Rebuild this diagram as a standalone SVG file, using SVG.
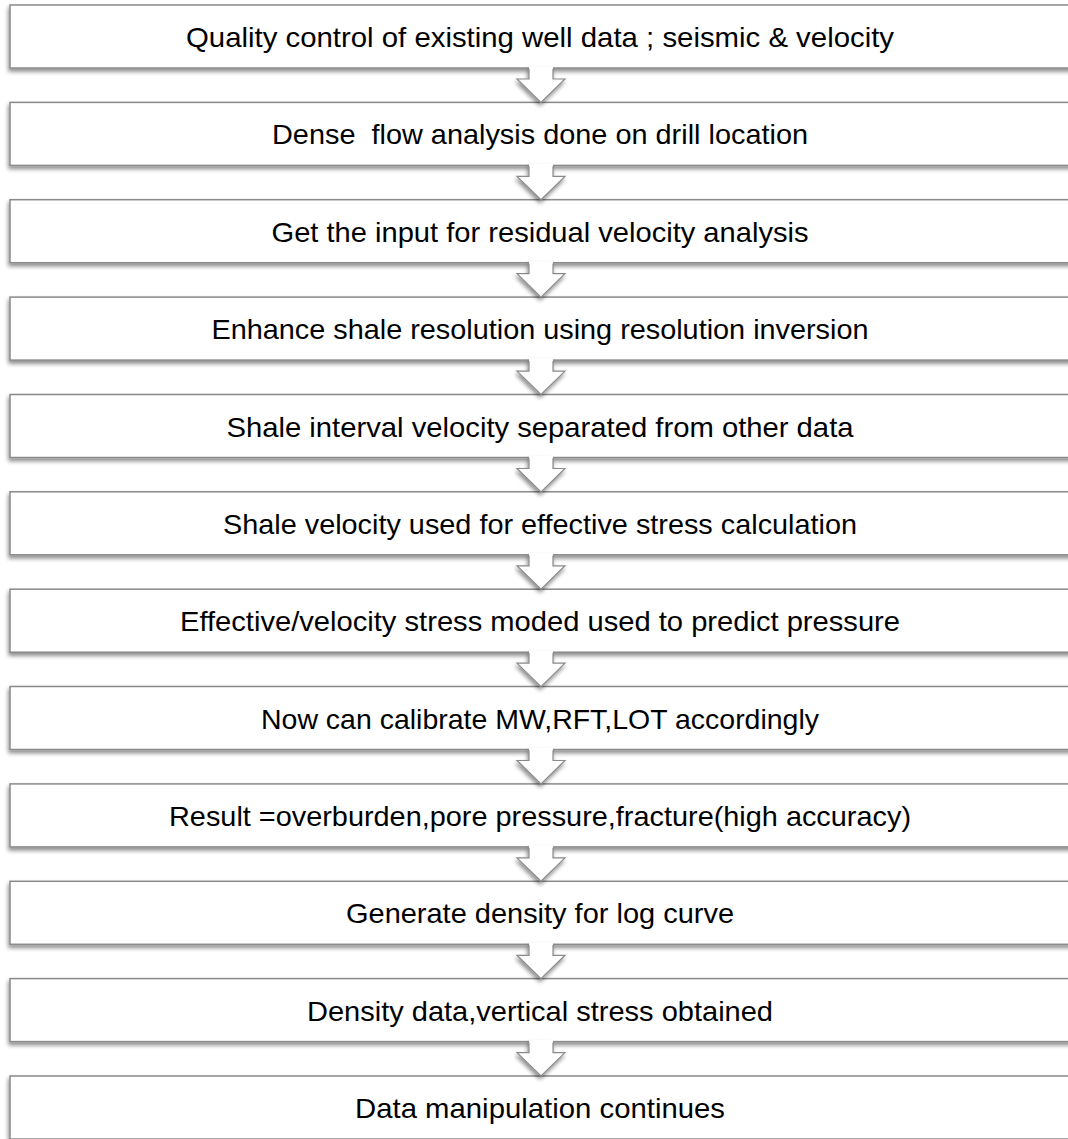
<svg xmlns="http://www.w3.org/2000/svg" width="1068" height="1139" viewBox="0 0 1068 1139">
<style>
.box{fill:#ffffff;stroke:#8a8a8a;stroke-width:1.5}
.lbl{font-family:"Liberation Sans",Arial,sans-serif;font-size:28.5px;fill:#000;text-anchor:middle}
.afill{fill:#ffffff;stroke:none}
.aline{fill:none;stroke:#8a8a8a;stroke-width:1.2;stroke-linejoin:miter}
</style>
<defs>
<filter id="sh" x="-5%" y="-30%" width="110%" height="170%">
<feGaussianBlur in="SourceAlpha" stdDeviation="2"/>
<feOffset dx="-1" dy="3" result="b"/>
<feComponentTransfer><feFuncA type="linear" slope="0.45"/></feComponentTransfer>
<feMerge><feMergeNode/><feMergeNode in="SourceGraphic"/></feMerge>
</filter>
<g id="arrow">
<polygon class="afill" points="-12,-1.5 -12,11 -24,11 0,34.4 24,11 12,11 12,-1.5"/>
<path class="aline" d="M-12,0.8 V11 H-24 L0,34.4 L24,11 H12 V0.8"/>
</g>
</defs>
<rect width="1068" height="1139" fill="#ffffff"/>
<g id="nodes">
<g id="n1"><rect class="box" filter="url(#sh)" x="10" y="5" width="1064" height="63"/><text class="lbl" x="540" y="47" textLength="708" lengthAdjust="spacingAndGlyphs">Quality control of existing well data ; seismic &amp; velocity</text></g>
<g id="n2"><rect class="box" filter="url(#sh)" x="10" y="102.4" width="1064" height="63"/><text class="lbl" x="540" y="144.4" textLength="536" lengthAdjust="spacingAndGlyphs" xml:space="preserve">Dense  flow analysis done on drill location</text></g>
<g id="n3"><rect class="box" filter="url(#sh)" x="10" y="199.7" width="1064" height="63"/><text class="lbl" x="540" y="241.7" textLength="537" lengthAdjust="spacingAndGlyphs">Get the input for residual velocity analysis</text></g>
<g id="n4"><rect class="box" filter="url(#sh)" x="10" y="297.1" width="1064" height="63"/><text class="lbl" x="540" y="339.1" textLength="657" lengthAdjust="spacingAndGlyphs">Enhance shale resolution using resolution inversion</text></g>
<g id="n5"><rect class="box" filter="url(#sh)" x="10" y="394.5" width="1064" height="63"/><text class="lbl" x="540" y="436.5" textLength="627" lengthAdjust="spacingAndGlyphs">Shale interval velocity separated from other data</text></g>
<g id="n6"><rect class="box" filter="url(#sh)" x="10" y="491.8" width="1064" height="63"/><text class="lbl" x="540" y="533.8" textLength="634" lengthAdjust="spacingAndGlyphs">Shale velocity used for effective stress calculation</text></g>
<g id="n7"><rect class="box" filter="url(#sh)" x="10" y="589.2" width="1064" height="63"/><text class="lbl" x="540" y="631.2" textLength="720" lengthAdjust="spacingAndGlyphs">Effective/velocity stress moded used to predict pressure</text></g>
<g id="n8"><rect class="box" filter="url(#sh)" x="10" y="686.5" width="1064" height="63"/><text class="lbl" x="540" y="728.5" textLength="558" lengthAdjust="spacingAndGlyphs">Now can calibrate MW,RFT,LOT accordingly</text></g>
<g id="n9"><rect class="box" filter="url(#sh)" x="10" y="783.9" width="1064" height="63"/><text class="lbl" x="540" y="825.9" textLength="742" lengthAdjust="spacingAndGlyphs">Result =overburden,pore pressure,fracture(high accuracy)</text></g>
<g id="n10"><rect class="box" filter="url(#sh)" x="10" y="881.3" width="1064" height="63"/><text class="lbl" x="540" y="923.3" textLength="388" lengthAdjust="spacingAndGlyphs">Generate density for log curve</text></g>
<g id="n11"><rect class="box" filter="url(#sh)" x="10" y="978.6" width="1064" height="63"/><text class="lbl" x="540" y="1020.6" textLength="466" lengthAdjust="spacingAndGlyphs">Density data,vertical stress obtained</text></g>
<g id="n12"><rect class="box" filter="url(#sh)" x="10" y="1076" width="1064" height="63"/><text class="lbl" x="540" y="1118" textLength="370" lengthAdjust="spacingAndGlyphs">Data manipulation continues</text></g>
</g>
<g id="connectors" filter="url(#sh)">
<use href="#arrow" transform="translate(541,68)"/>
<use href="#arrow" transform="translate(541,165.4)"/>
<use href="#arrow" transform="translate(541,262.7)"/>
<use href="#arrow" transform="translate(541,360.1)"/>
<use href="#arrow" transform="translate(541,457.5)"/>
<use href="#arrow" transform="translate(541,554.8)"/>
<use href="#arrow" transform="translate(541,652.2)"/>
<use href="#arrow" transform="translate(541,749.5)"/>
<use href="#arrow" transform="translate(541,846.9)"/>
<use href="#arrow" transform="translate(541,944.3)"/>
<use href="#arrow" transform="translate(541,1041.6)"/>
</g>
</svg>
